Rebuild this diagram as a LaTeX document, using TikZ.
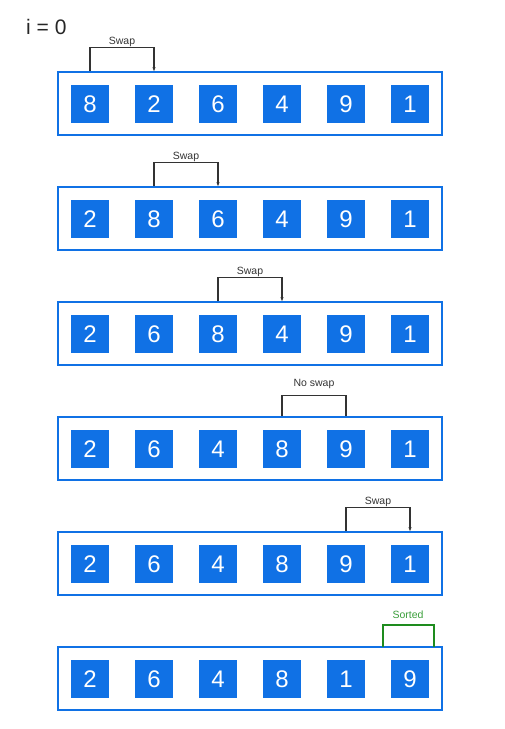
\documentclass[tikz,border=0pt]{standalone}
\usepackage{fontspec}
\setmainfont{Liberation Sans}
\usetikzlibrary{arrows.meta,calc}
\definecolor{cblue}{HTML}{1071E5}
\definecolor{cline}{HTML}{333333}
\definecolor{cgreen}{HTML}{1E8C1E}
\definecolor{cgreentext}{HTML}{3A9E3A}
\tikzset{
  cell/.style={fill=cblue, minimum width=38pt, minimum height=38pt, inner sep=0pt, text=white, font=\fontsize{24}{24}\selectfont},
  frame/.style={draw=cblue, line width=1.6pt, minimum width=384pt, minimum height=63pt, inner sep=0pt},
  brk/.style={draw=cline, line width=1.2pt},
  lbl/.style={font=\fontsize{10.5}{10.5}\selectfont, text=cline, inner sep=0pt},
}
\begin{document}
\begin{tikzpicture}[x=1pt,y=-1pt]
\useasboundingbox (0,0) rectangle (504,729);
\node[font=\fontsize{21}{21}\selectfont, anchor=west, text=black!85, inner sep=0pt] (title) at (26,27) {i = 0};
\foreach \r/\vals in {0/{8,2,6,4,9,1},1/{2,8,6,4,9,1},2/{2,6,8,4,9,1},3/{2,6,4,8,9,1},4/{2,6,4,8,9,1},5/{2,6,4,8,1,9}}{
  \node[frame] (f\r) at (250,103.5+115*\r) {};
  \foreach \v [count=\k] in \vals {
    \node[cell] (c\r\k) at (26+64*\k,104+115*\r) {\v};
  }
}
% brackets
\foreach \r/\a/\b/\t in {0/1/2/Swap,1/2/3/Swap,2/3/4/Swap,4/5/6/Swap}{
  \coordinate (s\r) at (c\r\a |- f\r.north);
  \coordinate (e\r) at (c\r\b |- f\r.north);
  \draw[brk, -{Stealth[length=4pt,width=3pt]}] (s\r) -- ++(0,-24) -| (e\r);
  \node[lbl] (l\r) at ($(s\r)!0.5!(e\r) + (0,-29)$) {\t};
}
\coordinate (s3) at (c34 |- f3.north);
\coordinate (e3) at (c35 |- f3.north);
\draw[brk] (s3) -- ++(0,-21) -| (e3);
\node[lbl] (l3) at ($(s3)!0.5!(e3) + (0,-32)$) {No swap};
\coordinate (s5) at (383,647);
\coordinate (e5) at (434,647);
\draw[draw=cgreen, line width=1.2pt] (s5) -- ++(0,-22) -| (e5);
\node[lbl, text=cgreentext] (l5) at (408,615) {Sorted};
\end{tikzpicture}
\end{document}
